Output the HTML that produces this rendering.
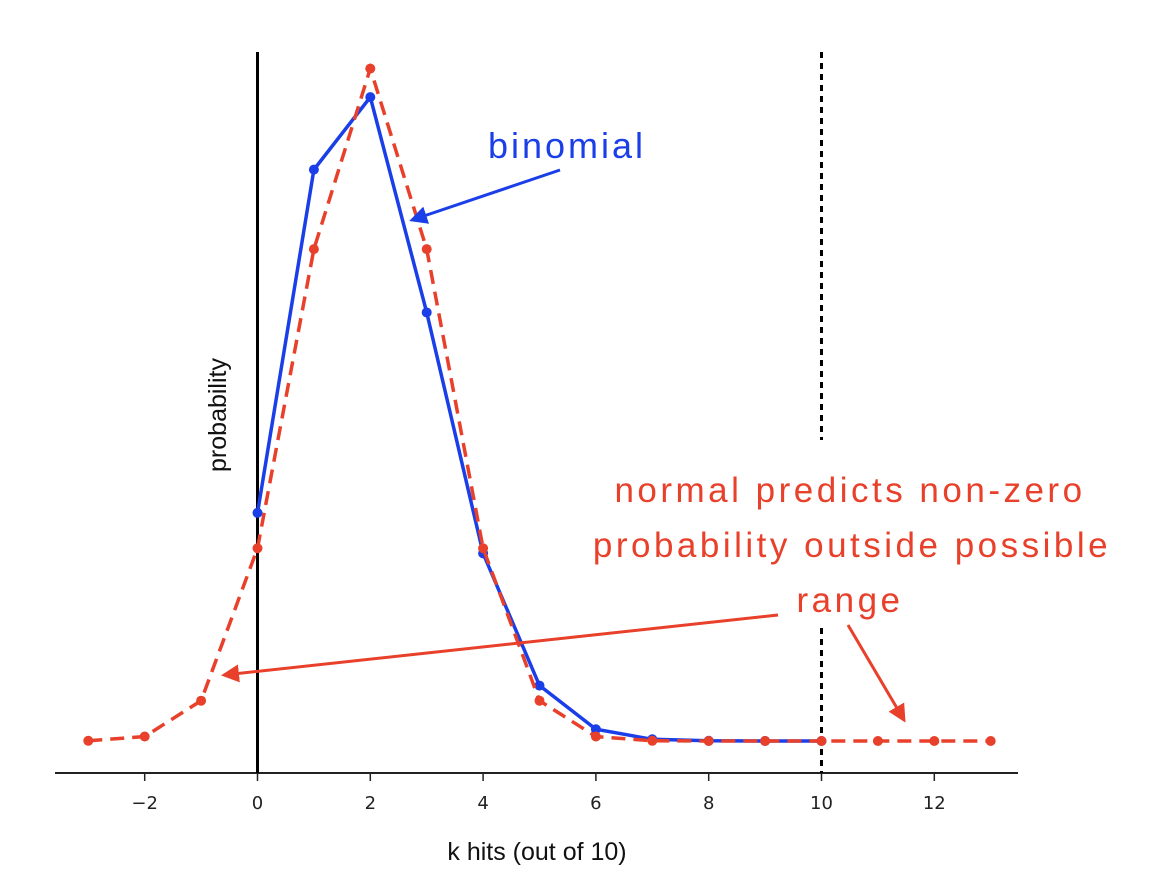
<!DOCTYPE html>
<html><head><meta charset="utf-8"><style>
html,body{margin:0;padding:0;background:#fff;}
svg{display:block;}
.hand{font-family:"Comic Sans MS","Liberation Sans",sans-serif;}
</style></head><body>
<svg id="chart" width="1158" height="886" viewBox="0 0 1158 886" xmlns="http://www.w3.org/2000/svg">
<defs>
<marker id="ab" markerWidth="6" markerHeight="6" refX="5" refY="3" orient="auto"><path d="M0,0 L6,3 L0,6 z" fill="#1a3ee8"/></marker>
<marker id="ar" markerWidth="6" markerHeight="6" refX="5" refY="3" orient="auto"><path d="M0,0 L6,3 L0,6 z" fill="#e8402a"/></marker>
</defs>
<g id="axes"></g>
<g id="series"></g>
<text x="537" y="860" text-anchor="middle" font-family="Liberation Sans, sans-serif" font-size="25" fill="#111">k hits (out of 10)</text>
<text transform="translate(226,415) rotate(-90)" text-anchor="middle" font-family="Liberation Sans, sans-serif" font-size="25" fill="#111">probability</text>
<text class="hand" x="567" y="158" text-anchor="middle" font-size="36" letter-spacing="3" fill="#1a3ee8">binomial</text>
<line x1="560" y1="170" x2="412" y2="220" stroke="#1a3ee8" stroke-width="3" marker-end="url(#ab)"/>
<g class="hand" font-size="35" letter-spacing="3.5" fill="#e8402a" text-anchor="middle">
<text x="850" y="502">normal predicts non-zero</text>
<text x="852" y="557">probability outside possible</text>
<text x="850" y="612">range</text>
</g>
<line x1="778" y1="615" x2="224" y2="675" stroke="#e8402a" stroke-width="3" marker-end="url(#ar)"/>
<line x1="848" y1="625" x2="904" y2="720" stroke="#e8402a" stroke-width="3" marker-end="url(#ar)"/>
</svg>
<script>
const xTicks=[-2,0,2,4,6,8,10,12];
const binomK=[0,1,2,3,4,5,6,7,8,9,10];
const binomP=[0.107,0.268,0.302,0.201,0.088,0.026,0.0055,0.0008,0.0001,0.0,0.0];
const normK=[-3,-2,-1,0,1,2,3,4,5,6,7,8,9,10,11,12,13];
const normP=[0.0001,0.0021,0.0189,0.0904,0.2307,0.3154,0.2307,0.0904,0.0189,0.0021,0.0001,0,0,0,0,0,0];
const NS="http://www.w3.org/2000/svg";
function sx(k){return 257.5+k*56.4;}
function sy(p){return 741-p*2132;}
function mk(tag,attrs,parent){const e=document.createElementNS(NS,tag);for(const a in attrs)e.setAttribute(a,attrs[a]);parent.appendChild(e);return e;}
const axes=document.getElementById('axes'),ser=document.getElementById('series');
let l=mk('line',{x1:55,y1:773,x2:1018,y2:773,stroke:'#222','stroke-width':2},axes);


xTicks.forEach(t=>{
 const tk=mk('line',{x1:sx(t),y1:773,x2:sx(t),y2:781,stroke:'#222','stroke-width':1.5},axes);
 
 
 const tx=mk('text',{x:sx(t),y:809,'text-anchor':'middle','font-family':'DejaVu Sans, Liberation Sans, sans-serif','font-size':18,fill:'#222'},axes);
 tx.textContent=t<0?'\u2212'+(-t):String(t);
 
 
});
let v=mk('line',{x1:sx(0),y1:52,x2:sx(0),y2:773,stroke:'#000','stroke-width':3},axes);


[[52,440],[628,773]].forEach(s=>{
 const d=mk('line',{x1:sx(10),y1:s[0],x2:sx(10),y2:s[1],stroke:'#000','stroke-width':3,'stroke-dasharray':'6,5'},axes);
 
 
});
function series(ks,ps,color,dash,name){
 const pts=ks.map((k,i)=>sx(k)+','+sy(ps[i])).join(' ');
 const pl=mk('polyline',{points:pts,fill:'none',stroke:color,'stroke-width':3.5,'stroke-dasharray':dash},ser);
 
 
 ks.forEach((k,i)=>{
  const c=mk('circle',{cx:sx(k),cy:sy(ps[i]),r:5,fill:color},ser);
  
  
 });
}
series(binomK,binomP,'#1a3ee8','none','binomial');
series(normK,normP,'#e8402a','14,8','normal');
</script>
</body></html>
